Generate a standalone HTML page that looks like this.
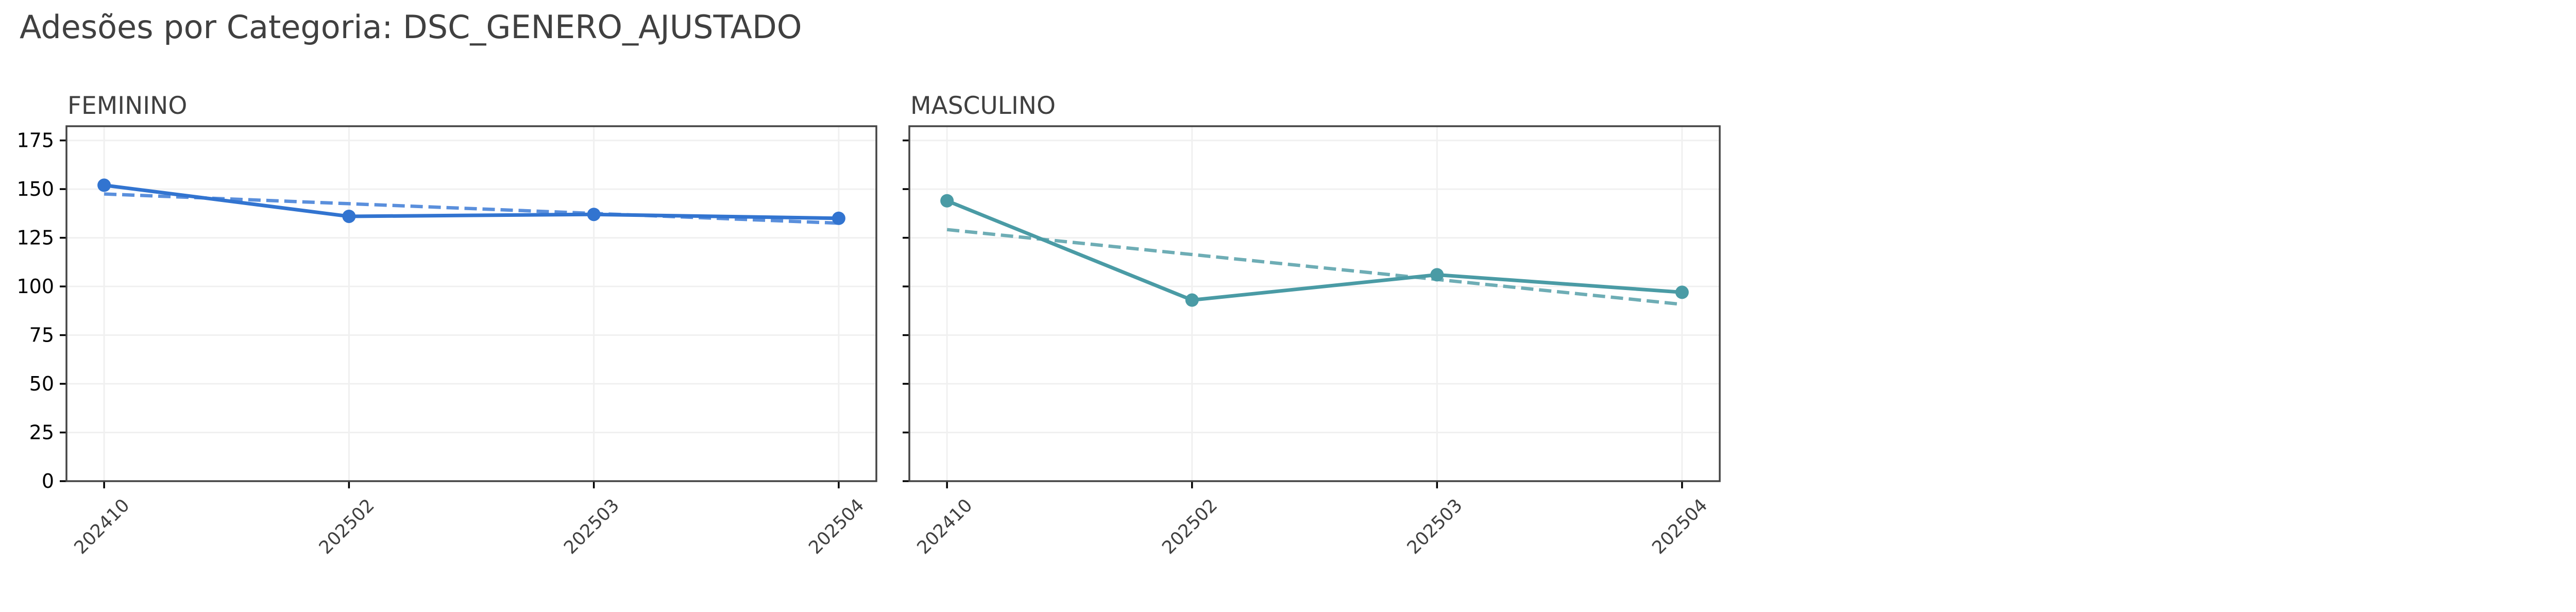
<!DOCTYPE html>
<html><head><meta charset="utf-8"><style>
html,body{margin:0;padding:0;background:#fff;overflow:hidden;width:5369px;height:1188px;}
svg{display:block;font-family:"DejaVu Sans","Liberation Sans",sans-serif;}
</style></head><body>
<svg id="chart" width="5369" height="1188" viewBox="0 0 5369 1188" xmlns="http://www.w3.org/2000/svg">
<rect width="5369" height="1188" fill="#fff"/>
<text x="38" y="74" font-size="62" fill="#404040">Adesões por Categoria: DSC_GENERO_AJUSTADO</text>
<g id="panels"></g>
</svg>
<script>
const categories = ["202410","202502","202503","202504"];
const femininoValues = [152,136,137,135];
const masculinoValues = [144,93,106,97];
const yTicks = [0,25,50,75,100,125,150,175];
const panelTitles = ["FEMININO","MASCULINO"];

const NS = "http://www.w3.org/2000/svg";
const rootG = document.getElementById("panels");
function mk(tag, attrs, parent){const e=document.createElementNS(NS,tag);for(const k in attrs)e.setAttribute(k,attrs[k]);(parent||rootG).appendChild(e);return e;}
const yTop=245, yBottom=934, yMax=182.3;
const panels=[{x0:129,x1:1701,vals:femininoValues,color:"#3274d0",trend:"#5a8fdc",title:panelTitles[0],labels:true},
              {x0:1765,x1:3338,vals:masculinoValues,color:"#4a9ba5",trend:"#6eadb5",title:panelTitles[1],labels:false}];
function fit(v){const n=v.length,mx=(n-1)/2,my=v.reduce((a,b)=>a+b,0)/n;let s=0,d=0;v.forEach((y,i)=>{s+=(i-mx)*(y-my);d+=(i-mx)*(i-mx);});const m=s/d;return v.map((_,i)=>my+m*(i-mx));}
panels.forEach((p)=>{
  const g=mk("g",{});
  
  
  const w=p.x1-p.x0, pad=w*0.0465;
  const xs=i=>p.x0+pad+i*(w-2*pad)/(categories.length-1);
  const ys=v=>yBottom-(v/yMax)*(yBottom-yTop);
  yTicks.forEach(t=>{
    const l=mk("line",{x1:p.x0,x2:p.x1,y1:ys(t),y2:ys(t),stroke:"#f0f0f0","stroke-width":3},g);
    
    
    const tk=mk("line",{x1:p.x0-13,x2:p.x0,y1:ys(t),y2:ys(t),stroke:"#000","stroke-width":3.5},g);
    
    
    if(p.labels){const tx=mk("text",{x:p.x0-24,y:ys(t)+13,"text-anchor":"end","font-size":38,fill:"#000"},g);tx.textContent=t;
      
      }
  });
  categories.forEach((c,i)=>{
    const x=xs(i);
    const l=mk("line",{x1:x,x2:x,y1:yTop,y2:yBottom,stroke:"#f0f0f0","stroke-width":3},g);
    
    
    const tk=mk("line",{x1:x,x2:x,y1:yBottom,y2:yBottom+14,stroke:"#000","stroke-width":3.5},g);
    
    
    const lx=x+51, ly=yBottom+49;
    const tx=mk("text",{x:lx,y:ly,"text-anchor":"end","font-size":35,fill:"#404040",transform:`rotate(-45 ${lx} ${ly})`},g);
    tx.textContent=c;
    
    
  });
  const fr=mk("rect",{x:p.x0,y:yTop,width:w,height:yBottom-yTop,fill:"none",stroke:"#444","stroke-width":3.5},g);
  
  
  const tt=mk("text",{x:p.x0+2,y:221,"font-size":47,fill:"#404040"},g);
  tt.textContent=p.title;
  
  
  const tr=fit(p.vals);
  const tl=mk("polyline",{points:tr.map((v,i)=>xs(i)+","+ys(v)).join(" "),fill:"none",stroke:p.trend,"stroke-width":6.5,"stroke-dasharray":"24 11"},g);
  
  
  const ln=mk("polyline",{points:p.vals.map((v,i)=>xs(i)+","+ys(v)).join(" "),fill:"none",stroke:p.color,"stroke-width":7,"stroke-linejoin":"round"},g);
  
  
  p.vals.forEach((v,i)=>{
    const c=mk("circle",{cx:xs(i),cy:ys(v),r:13,fill:p.color},g);
    
    
  });
});
</script>
</body></html>
